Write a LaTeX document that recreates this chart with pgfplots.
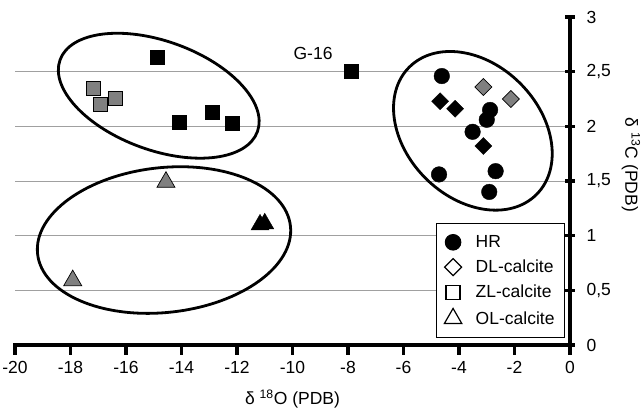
\documentclass[border=0pt]{standalone}
\usepackage{pgfplots}
\pgfplotsset{compat=1.18}
\usepackage{fontspec}
\setmainfont{Liberation Sans}
\definecolor{mgray}{RGB}{128,128,128}
\definecolor{gridgray}{RGB}{160,160,160}
\newcommand{\fs}{\fontsize{17.5}{20}\selectfont}
\begin{document}
\begin{tikzpicture}
\begin{axis}[name=ax, scale only axis, width=555pt, height=328pt,
  xmin=-20, xmax=0, ymin=0, ymax=3,
  axis x line*=bottom, axis y line*=right,
  x axis line style={line width=3.5pt, -},
  y axis line style={line width=3.5pt, -},
  xtick={-20,-18,...,0}, ytick={0,0.5,...,3},
  xtick align=outside, ytick align=center,
  major tick length=10pt,
  /pgf/number format/assume math mode=true,
  /pgf/number format/use comma,
  ticklabel style={font=\fs},
  xticklabel style={yshift=-3pt},
  yticklabel style={xshift=8pt},
  clip=false,
  legend style={at={(rel axis cs:0.991,0.0213)}, anchor=south east,
    draw=black, line width=1pt, font=\fs, row sep=7pt,
    inner xsep=8pt, inner ysep=10pt, cells={anchor=west},
    /tikz/every odd column/.append style={column sep=12pt}},
  legend cell align=left,
]
% grid lines
\foreach \yy in {0.5,1,1.5,2,2.5} {
  \edef\tmp{\noexpand\draw[gridgray, line width=0.9pt] (axis cs:-20,\yy) -- (axis cs:0,\yy);}
  \tmp
}
% thick axis lines and ticks
\draw[line width=3.5pt, line cap=rect] (axis cs:-20,0) -- (axis cs:0,0) -- (axis cs:0,3);
\foreach \xx in {-20,-18,...,0} {
  \edef\tmp{\noexpand\draw[line width=3.2pt] (axis cs:\xx,0) -- ([yshift=-10pt]axis cs:\xx,0);}
  \tmp
}
\foreach \yy in {0,0.5,1,1.5,2,2.5,3} {
  \edef\tmp{\noexpand\draw[line width=3.2pt] ([xshift=-5pt]axis cs:0,\yy) -- ([xshift=5pt]axis cs:0,\yy);}
  \tmp
}
% ellipses
\draw[line width=2.8pt, rotate around={-20:(axis cs:-14.82,2.28)}] (axis cs:-14.82,2.28) ellipse [x radius=105pt, y radius=54.4pt];
\draw[line width=2.8pt, rotate around={6.3:(axis cs:-14.63,0.96)}] (axis cs:-14.63,0.96) ellipse [x radius=127.2pt, y radius=72.4pt];
\draw[line width=2.8pt, rotate around={-45:(axis cs:-3.50,1.959)}] (axis cs:-3.50,1.959) ellipse [x radius=90pt, y radius=67pt];
% HR
\addplot[forget plot, only marks, mark=*, mark size=7.8pt, mark options={fill=black, draw=black}] coordinates {
(-4.62,2.46) (-2.88,2.15) (-3.00,2.06) (-3.51,1.95) (-4.72,1.56) (-2.68,1.59) (-2.91,1.40)};
% DL black
\addplot[forget plot, only marks, mark=square*, mark size=6pt, mark options={rotate=45, fill=black, draw=black}] coordinates {
(-4.68,2.23) (-4.14,2.16) (-3.12,1.82)};
% DL gray
\addplot[forget plot, only marks, mark=square*, mark size=6pt, mark options={rotate=45, fill=mgray, draw=black, line width=0.7pt}] coordinates {
(-3.12,2.36) (-2.13,2.25)};
% ZL black
\addplot[forget plot, only marks, mark=square*, mark size=7pt, mark options={fill=black, draw=black}] coordinates {
(-14.89,2.63) (-14.09,2.04) (-12.91,2.13) (-12.17,2.03) (-7.87,2.50)};
% ZL gray
\addplot[forget plot, only marks, mark=square*, mark size=7pt, mark options={fill=mgray, draw=black, line width=0.7pt}] coordinates {
(-17.18,2.35) (-16.91,2.20) (-16.40,2.26)};
% OL black
\addplot[forget plot, only marks, mark=triangle*, mark size=10.4pt, mark options={fill=black, draw=black}] coordinates {
(-11.17,1.10) (-11.00,1.11)};
% OL gray
\addplot[forget plot, only marks, mark=triangle*, mark size=10.4pt, mark options={fill=mgray, draw=black, line width=0.7pt}] coordinates {
(-14.56,1.49) (-17.92,0.59)};
\node[font=\fs] at (axis cs:-9.26,2.67) {G-16};
% legend
\addlegendimage{only marks, mark=*, mark size=7.8pt, mark options={fill=black, draw=black}}
\addlegendentry{HR}
\addlegendimage{only marks, mark=square, mark size=6pt, mark options={rotate=45, draw=black, fill=white, line width=1.2pt}}
\addlegendentry{DL-calcite}
\addlegendimage{only marks, mark=square, mark size=7pt, mark options={draw=black, fill=white, line width=1.2pt}}
\addlegendentry{ZL-calcite}
\addlegendimage{only marks, mark=triangle, mark size=10pt, mark options={draw=black, fill=white, line width=1.2pt}}
\addlegendentry{OL-calcite}
\node[font=\fs, rotate=-90] at ([xshift=61pt]rel axis cs:1,0.549) {δ \textsuperscript{13}C (PDB)};
\node[font=\fs] at ([yshift=-54pt]rel axis cs:0.5,0) {δ \textsuperscript{18}O (PDB)};
\end{axis}
\pgfresetboundingbox
\path ([shift={(-15pt,-65pt)}]ax.south west) rectangle ([shift={(74pt,17pt)}]ax.north east);
\end{tikzpicture}
\end{document}
